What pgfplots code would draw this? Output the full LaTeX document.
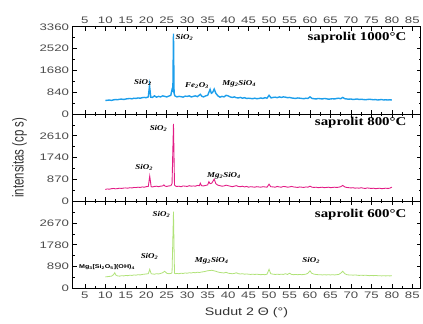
\documentclass[border=0pt]{standalone}
\usepackage{pgfplots}
\pgfplotsset{compat=1.18}
\usepgfplotslibrary{groupplots}
\usepackage{fontspec}
\setmainfont{Liberation Sans}
\newfontfamily\tickfont[FakeStretch=1.4]{Liberation Sans}
\newfontfamily\labfont[FakeStretch=1.3]{Liberation Sans}
\newfontfamily\ylabfont[FakeStretch=0.72]{Liberation Sans}
\newfontfamily\titfont[FakeStretch=1.25]{Liberation Serif}
\newfontfamily\annfont[FakeStretch=1.2]{Liberation Serif}
\definecolor{cblue}{RGB}{28,158,235}
\definecolor{cmag}{RGB}{226,28,133}
\definecolor{cgreen}{RGB}{176,226,120}
\newcommand{\ann}[1]{{\annfont\fontsize{7.5}{8}\selectfont\bfseries\itshape #1}}
\newcommand{\tit}[1]{{\titfont\fontsize{12}{13}\selectfont\bfseries #1}}
\begin{document}
\begin{tikzpicture}
\begin{groupplot}[group style={group size=1 by 3, vertical sep=0pt},
  width=350pt, height=87.7pt, scale only axis,
  xmin=2, xmax=87, ymin=0,
  xtick={5,10,...,85}, minor x tick num=1,
  tick align=inside, xtick pos=both, ytick pos=both, yticklabel pos=left,
  axis line style={line width=0.9pt},
  major tick length=4pt, minor tick length=2pt,
  every tick/.style={black, line width=0.7pt},
  tick label style={font=\tickfont\fontsize{9.5}{10}\selectfont, text=black!70},
  /pgf/number format/assume math mode=true,
  /pgf/number format/1000 sep={},
  scaled y ticks=false, scaled x ticks=false,
  clip=false,
]
% ---------- 1000 C ----------
\nextgroupplot[xticklabel pos=right, ymax=3360, ytick={0,840,1680,2520,3360}, minor y tick num=1]
\addplot[cblue, line width=1.4pt] coordinates {
(10,520)(10.5,530)(11,540)(11.5,525)(12,545)(12.5,560)(13,550)(13.5,570)(14,575)(14.5,560)
(15,580)(15.5,590)(16,600)(16.5,585)(17,610)(17.5,600)(18,620)(18.5,610)(19,630)(19.5,640)
(20,630)(20.5,660)(20.8,1100)(21.1,650)(21.5,640)(22,700)(22.5,650)(23,680)(23.5,660)(24,700)
(24.5,680)(25,660)(25.5,690)(26,720)(26.3,950)(26.5,900)(26.65,3100)(26.8,800)(27,700)(27.5,660)
(28,680)(28.5,670)(29,650)(29.5,690)(30,680)(30.5,700)(31,660)(31.5,680)(32,700)(32.5,670)
(33.2,760)(33.6,680)(34,660)(34.5,700)(35,720)(35.6,950)(35.9,800)(36.2,830)(36.6,960)(37,800)
(37.5,700)(38,650)(38.5,680)(39,660)(39.5,720)(40,700)(40.5,660)(41,640)(41.5,660)(42,630)
(42.5,620)(43,640)(43.5,610)(44,630)(44.5,600)(45,610)(45.5,600)(46,590)(46.5,610)(47,590)
(47.5,600)(48,620)(48.5,600)(49,630)(49.5,610)(50,720)(50.5,620)(51,640)(51.5,650)(52,630)
(52.5,660)(53,640)(53.5,660)(54,650)(54.5,630)(55,640)(55.5,620)(56,610)(56.5,600)(57,620)
(57.5,610)(58,600)(58.5,590)(59,610)(59.5,600)(60,660)(60.5,600)(61,590)(61.5,580)(62,600)
(62.5,590)(63,580)(63.5,600)(64,590)(64.5,570)(65,580)(65.5,590)(66,580)(66.5,600)(67,610)
(67.5,590)(68,640)(68.5,590)(69,580)(69.5,570)(70,580)(70.5,560)(71,570)(71.5,580)(72,560)
(72.5,570)(73,560)(73.5,550)(74,560)(74.5,570)(75,560)(75.5,550)(76,560)(76.5,540)(77,550)
(77.5,560)(78,540)(78.5,550)(79,540)(79.5,550)(80,540)};
\node[anchor=west, inner sep=1pt] at (axis cs:26.9,2950) {\ann{SiO\textsubscript{2}}};
\node[inner sep=1pt] at (axis cs:19.2,1230) {\ann{SiO\textsubscript{2}}};
\node[inner sep=1pt] at (axis cs:32.4,1110) {\ann{Fe\textsubscript{2}O\textsubscript{3}}};
\node[inner sep=1pt] at (axis cs:42.7,1180) {\ann{Mg\textsubscript{2}SiO\textsubscript{4}}};
\node[anchor=east, inner sep=0pt] at (axis cs:83.6,2940) {\tit{saprolit 1000°C}};
% ---------- 800 C ----------
\nextgroupplot[xticklabels={}, ymax=3480, ytick={0,870,1740,2610}, minor ytick={435,1305,2175,3045},
  ylabel={intensitas (cp s)},
  ylabel style={font=\ylabfont\fontsize{16}{17}\selectfont, text=black!80, yshift=6pt}]
\addplot[cmag, line width=0.9pt] coordinates {
(10,470)(10.5,490)(11,480)(11.5,500)(12,510)(12.5,495)(13,505)(13.5,520)(14,510)(14.5,525)
(15,530)(15.5,520)(16,540)(16.5,530)(17,550)(17.5,545)(18,560)(18.5,550)(19,570)(19.5,560)
(20,580)(20.5,590)(20.85,1000)(21.2,580)(21.5,570)(22,590)(22.5,600)(23,580)(23.5,600)(24,610)
(24.3,650)(24.6,600)(25,590)(25.5,610)(26,620)(26.3,700)(26.65,3090)(26.9,650)(27.2,600)(27.5,590)
(28,600)(28.5,580)(29,610)(29.5,600)(30,590)(30.5,620)(31,600)(31.5,610)(32,600)(32.5,630)
(33,620)(33.2,720)(33.5,620)(34,610)(34.5,630)(35,650)(35.3,780)(35.6,700)(36,720)(36.6,880)
(37,700)(37.5,640)(38,620)(38.5,600)(39,610)(39.5,640)(40,620)(40.5,600)(41,580)(41.5,600)
(42,620)(42.5,590)(43,580)(43.5,600)(44,570)(44.5,590)(45,560)(45.5,580)(46,570)(46.5,560)
(47,580)(47.5,570)(48,560)(48.5,580)(49,570)(49.5,560)(50,680)(50.4,580)(51,570)(51.5,560)
(52,590)(52.5,570)(53,560)(53.5,590)(54,580)(54.5,560)(55,570)(55.5,590)(56,570)(56.5,560)
(57,550)(57.5,570)(58,560)(58.5,550)(59,570)(59.5,560)(60,600)(60.5,560)(61,550)(61.5,560)
(62,540)(62.5,550)(63,560)(63.5,540)(64,550)(64.5,560)(65,540)(65.5,550)(66,560)(66.5,550)
(67,560)(67.5,580)(68,630)(68.5,570)(69,550)(69.5,540)(70,530)(70.5,540)(71,520)(71.5,530)
(72,520)(72.5,540)(73,520)(73.5,510)(74,530)(74.5,520)(75,510)(75.5,520)(76,500)(76.5,510)
(77,520)(77.5,500)(78,510)(78.5,520)(79,510)(79.5,520)(80,560)};
\node[inner sep=1pt] at (axis cs:23,2890) {\ann{SiO\textsubscript{2}}};
\node[inner sep=1pt] at (axis cs:19.5,1340) {\ann{SiO\textsubscript{2}}};
\node[inner sep=1pt] at (axis cs:39,1030) {\ann{Mg\textsubscript{2}SiO\textsubscript{4}}};
\node[anchor=east, inner sep=0pt] at (axis cs:83.6,3120) {\tit{saprolit 800°C}};
% ---------- 600 C ----------
\nextgroupplot[xticklabel pos=left, ymax=3560, ytick={0,890,1780,2670}, minor ytick={445,1335,2225,3115},
  xlabel={Sudut 2 Θ (°)},
  xlabel style={font=\labfont\fontsize{11}{12}\selectfont, text=black!80, yshift=-2pt}]
\addplot[cgreen, line width=0.8pt] coordinates {
(10,470)(10.5,480)(11,490)(11.5,500)(12,560)(12.3,640)(12.6,540)(13,510)(13.5,500)(14,520)
(14.5,510)(15,530)(15.5,520)(16,540)(16.5,530)(17,550)(17.5,540)(18,560)(18.5,550)(19,570)
(19.5,580)(20,590)(20.5,600)(20.85,780)(21.2,600)(21.5,590)(22,580)(22.5,600)(23,590)(23.5,610)
(24,640)(24.5,700)(25,620)(25.5,600)(26,610)(26.3,640)(26.65,3130)(26.9,620)(27.2,600)(27.5,610)
(28,600)(28.5,620)(29,610)(29.5,630)(30,620)(30.5,640)(31,630)(31.5,650)(32,640)(32.5,660)
(33,650)(33.5,670)(34,680)(34.5,700)(35,720)(35.5,730)(36,740)(36.5,720)(37,700)(37.5,670)
(38,650)(38.5,640)(39,630)(39.5,660)(40,620)(40.5,610)(41,600)(41.5,610)(42,640)(42.5,600)
(43,590)(43.5,600)(44,580)(44.5,590)(45,580)(45.5,570)(46,580)(46.5,570)(47,580)(47.5,570)
(48,560)(48.5,570)(49,560)(49.5,580)(50,780)(50.4,600)(51,580)(51.5,570)(52,580)(52.5,570)
(53,580)(53.5,570)(54,600)(54.5,570)(55,620)(55.5,570)(56,560)(56.5,570)(57,560)(57.5,570)
(58,560)(58.5,570)(59,580)(59.5,620)(60,720)(60.4,620)(61,580)(61.5,570)(62,560)(62.5,560)
(63,550)(63.5,560)(64,550)(64.5,560)(65,550)(65.5,560)(66,550)(66.5,560)(67,570)(67.5,620)
(68,700)(68.5,600)(69,560)(69.5,550)(70,550)(70.5,540)(71,550)(71.5,540)(72,530)(72.5,540)
(73,530)(73.5,540)(74,530)(74.5,520)(75,530)(75.5,520)(76,530)(76.5,520)(77,520)(77.5,510)
(78,520)(78.5,510)(79,520)(79.5,510)(80,520)};
\node[inner sep=1pt] at (axis cs:23.7,3030) {\ann{SiO\textsubscript{2}}};
\node[inner sep=1pt] at (axis cs:20.8,1290) {\ann{SiO\textsubscript{2}}};
\node[inner sep=1pt] at (axis cs:36,1130) {\ann{Mg\textsubscript{2}SiO\textsubscript{4}}};
\node[inner sep=1pt] at (axis cs:60.3,1130) {\ann{SiO\textsubscript{2}}};
\node[anchor=west, inner sep=1pt] at (axis cs:3.3,890) {{\labfont\fontsize{5.5}{6}\selectfont\bfseries Mg\textsubscript{3}[Si\textsubscript{2}O\textsubscript{5}](OH)\textsubscript{4}}};
\node[anchor=east, inner sep=0pt] at (axis cs:83.6,3030) {\tit{saprolit 600°C}};
\end{groupplot}
\path[use as bounding box] ([xshift=-73pt,yshift=27pt]group c1r1.north west) rectangle ([yshift=-35pt]group c1r3.south east);
\end{tikzpicture}
\end{document}
